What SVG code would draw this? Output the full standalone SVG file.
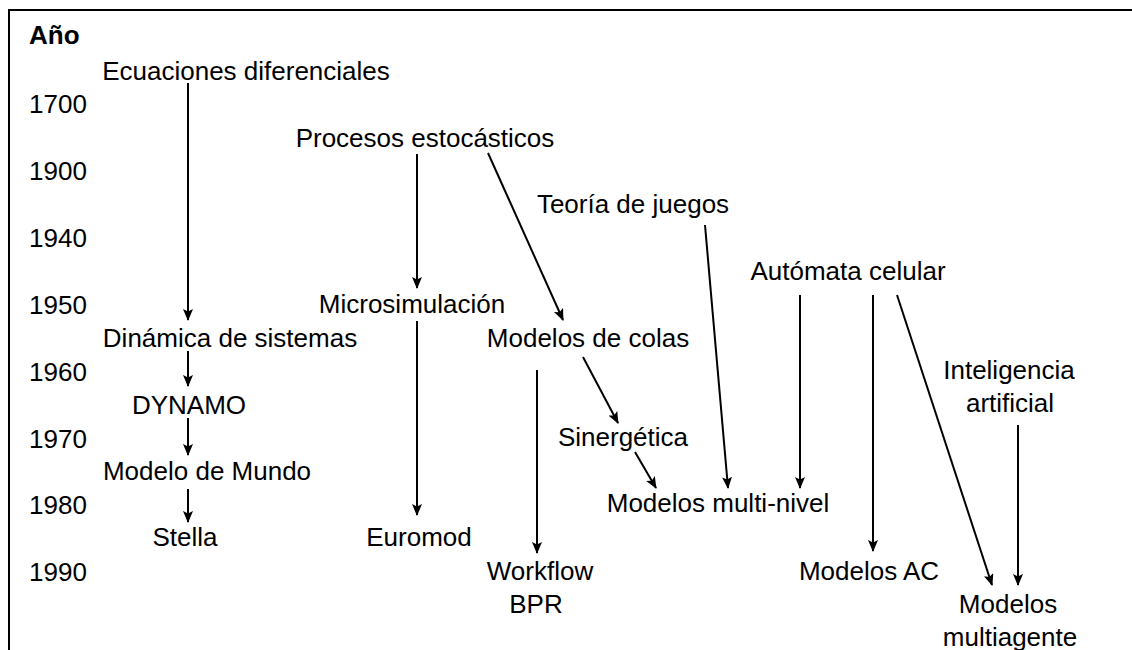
<svg xmlns="http://www.w3.org/2000/svg" width="1132" height="650" viewBox="0 0 1132 650">
<style>
text{font-family:"Liberation Sans",Arial,sans-serif;font-size:26px;fill:#000}
.c{text-anchor:middle}
.b{font-weight:bold}
.e line{stroke:#000;stroke-width:2;fill:none;marker-end:url(#ah)}
</style>
<defs>
<marker id="ah" viewBox="0 0 12 10" refX="11" refY="5" markerWidth="12" markerHeight="10" markerUnits="userSpaceOnUse" orient="auto">
<path d="M0,0 L12,5 L0,10 L2.5,5 z" fill="#000"/>
</marker>
</defs>
<rect width="1132" height="650" fill="#fff"/>
<path d="M9,650 V10 H1132" fill="none" stroke="#000" stroke-width="2"/>
<g id="axis">
<text x="29" y="44" class="b">Año</text>
<text x="29" y="113">1700</text>
<text x="29" y="180">1900</text>
<text x="29" y="247">1940</text>
<text x="29" y="314">1950</text>
<text x="29" y="381">1960</text>
<text x="29" y="448">1970</text>
<text x="29" y="514">1980</text>
<text x="29" y="581">1990</text>
</g>
<g id="n-ecuaciones"><text x="246" y="80" class="c">Ecuaciones diferenciales</text></g>
<g id="n-procesos"><text x="425" y="147" class="c">Procesos estocásticos</text></g>
<g id="n-teoria"><text x="633" y="213" class="c">Teoría de juegos</text></g>
<g id="n-automata"><text x="848" y="280" class="c">Autómata celular</text></g>
<g id="n-micro"><text x="412" y="313" class="c">Microsimulación</text></g>
<g id="n-dinamica"><text x="230" y="347" class="c">Dinámica de sistemas</text></g>
<g id="n-colas"><text x="588" y="347" class="c">Modelos de colas</text></g>
<g id="n-ia"><text x="1009" y="379" class="c">Inteligencia</text><text x="1010" y="412" class="c">artificial</text></g>
<g id="n-dynamo"><text x="189" y="414" class="c">DYNAMO</text></g>
<g id="n-sinergetica"><text x="623" y="446" class="c">Sinergética</text></g>
<g id="n-mundo"><text x="207" y="480" class="c">Modelo de Mundo</text></g>
<g id="n-multinivel"><text x="718" y="512" class="c">Modelos multi-nivel</text></g>
<g id="n-stella"><text x="185" y="546" class="c">Stella</text></g>
<g id="n-euromod"><text x="419" y="546" class="c">Euromod</text></g>
<g id="n-workflow"><text x="540" y="580" class="c">Workflow</text><text x="536" y="613" class="c">BPR</text></g>
<g id="n-ac"><text x="869" y="580" class="c">Modelos AC</text></g>
<g id="n-multiagente"><text x="1008" y="613" class="c">Modelos</text><text x="1010" y="646" class="c">multiagente</text></g>
<g id="connectors" class="e">
<line x1="188" y1="83" x2="188" y2="320"/>
<line x1="188" y1="351" x2="188" y2="386"/>
<line x1="188" y1="418" x2="188" y2="455"/>
<line x1="188" y1="489" x2="188" y2="522"/>
<line x1="417" y1="154" x2="417" y2="288"/>
<line x1="417" y1="321" x2="417" y2="515"/>
<line x1="488" y1="153" x2="563" y2="320"/>
<line x1="583" y1="357" x2="618" y2="423"/>
<line x1="635" y1="452" x2="656" y2="488"/>
<line x1="537" y1="370" x2="537" y2="553"/>
<line x1="705" y1="225" x2="728" y2="488"/>
<line x1="800" y1="295" x2="800" y2="488"/>
<line x1="873" y1="295" x2="873" y2="551"/>
<line x1="897" y1="295" x2="992" y2="585"/>
<line x1="1018" y1="425" x2="1018" y2="585"/>
</g>
</svg>
